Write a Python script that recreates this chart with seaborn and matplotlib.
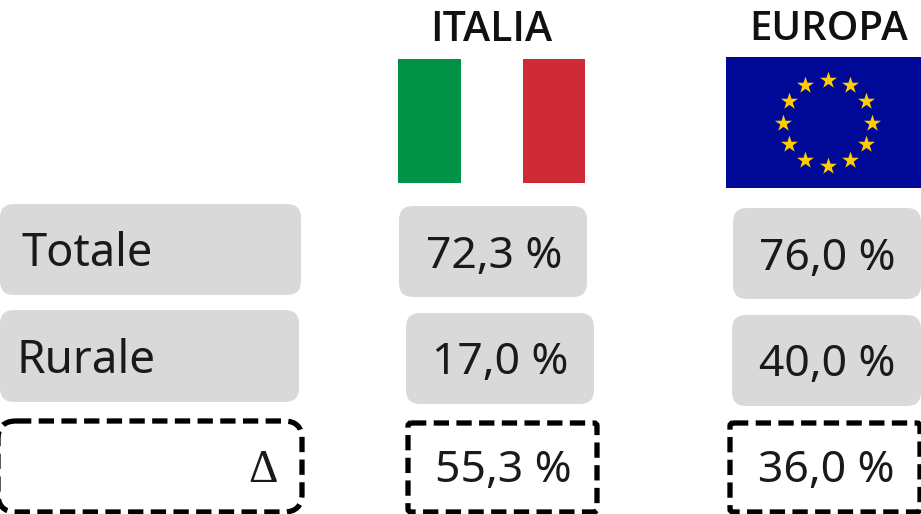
import numpy as np
import pandas as pd
import matplotlib
matplotlib.use("Agg")
import matplotlib.pyplot as plt
from matplotlib.patches import FancyBboxPatch, Rectangle
import seaborn as sns

# Values
columns = ["ITALIA", "EUROPA"]
rows = ["Totale", "Rurale", "Δ"]
italia = ["72,3 %", "17,0 %", "55,3 %"]
europa = ["76,0 %", "40,0 %", "36,0 %"]

GREY = "#d9d9d9"
TEXT = "#1a1a1a"
N_STARS = 12

sns.set_theme(style="white")
plt.rcParams["font.family"] = ["Noto Sans", "DejaVu Sans"]


def box(ax, x0, y0, x1, y1, dashed=False, rad=14):
    # rounded box in pixel coords, filled grey or dashed black outline
    style = f"round,pad=0,rounding_size={rad}"
    if dashed:
        p = FancyBboxPatch((x0, y0), x1 - x0, y1 - y0, boxstyle=style, fc="white",
                           ec="black", lw=3.8, ls=(0, (2.9, 1.4)), clip_on=True)
    else:
        p = FancyBboxPatch((x0, y0), x1 - x0, y1 - y0, boxstyle=style, fc=GREY, ec="none")
    ax.add_patch(p)


def main():
    fig = plt.figure(figsize=(9.21, 5.14), dpi=100)
    ax = fig.add_axes([0, 0, 1, 1])
    ax.set_xlim(0, 921)
    ax.set_ylim(514, 0)
    ax.axis("off")

    # Headers
    ax.text(491, 30, columns[0], ha="center", va="center", fontsize=29.5,
            fontweight="semibold", family="Open Sans", color="#111111")
    ax.text(829, 30, columns[1], ha="center", va="center", fontsize=29,
            fontweight="semibold", family="Open Sans", color="#111111")

    # Italian flag
    ax.add_patch(Rectangle((398, 59), 63, 124, fc="#009246", ec="none"))
    ax.add_patch(Rectangle((523, 59), 62, 124, fc="#ce2b37", ec="none"))

    # EU flag
    ax.add_patch(Rectangle((726, 57), 195, 131, fc="#000a96", ec="none"))
    angles = np.arange(N_STARS) * 2 * np.pi / N_STARS
    stars = pd.DataFrame({"x": 827.5 + 44.5 * np.sin(angles),
                          "y": 122.5 - 43 * np.cos(angles)})
    sns.scatterplot(data=stars, x="x", y="y", marker="*", s=165, color="#ffcc00",
                    linewidth=0, ax=ax, zorder=3, legend=False)
    ax.set_xlabel("")
    ax.set_ylabel("")

    # Row label boxes
    box(ax, 0, 204, 301, 295)
    box(ax, 0, 310, 299, 402)
    box(ax, -2, 421, 302, 512, dashed=True, rad=18)
    ax.text(21, 254, rows[0], ha="left", va="center", fontsize=32.5, color=TEXT)
    ax.text(16, 361, rows[1], ha="left", va="center", fontsize=33, color=TEXT)
    ax.text(263, 471, rows[2], ha="center", va="center", fontsize=33,
            family="Liberation Serif", color=TEXT)

    # Italia column
    box(ax, 399, 206, 587, 297)
    box(ax, 406, 313, 594, 404)
    box(ax, 408, 423, 597, 512, dashed=True, rad=3)
    ax.text(494, 257, italia[0], ha="center", va="center", fontsize=32, color=TEXT)
    ax.text(500, 363, italia[1], ha="center", va="center", fontsize=32, color=TEXT)
    ax.text(503, 471, italia[2], ha="center", va="center", fontsize=32, color=TEXT)

    # Europa column
    box(ax, 733, 208, 921, 299)
    box(ax, 732, 315, 921, 406)
    box(ax, 730, 423, 920, 512, dashed=True, rad=3)
    ax.text(827, 259, europa[0], ha="center", va="center", fontsize=32, color=TEXT)
    ax.text(827, 365, europa[1], ha="center", va="center", fontsize=32, color=TEXT)
    ax.text(826, 471, europa[2], ha="center", va="center", fontsize=32, color=TEXT)

    fig.savefig("out.png", dpi=100)
    plt.close(fig)


if __name__ == "__main__":
    main()
